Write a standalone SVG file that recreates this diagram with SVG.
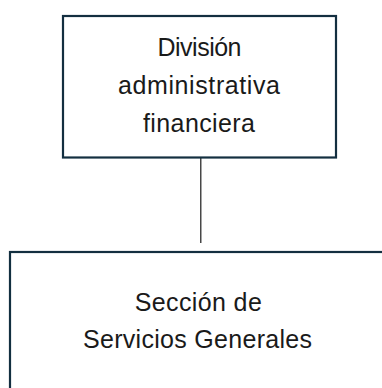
<svg xmlns="http://www.w3.org/2000/svg" width="382" height="388" viewBox="0 0 382 388">
<style>
.box{fill:#ffffff;stroke:#132f40;stroke-width:2.2}
.lbl{font-family:"Liberation Sans",Arial,sans-serif;font-size:25px;fill:#1a1a1a;text-anchor:middle}
.conn{stroke:#1a1a1a;stroke-width:1.2;fill:none}
</style>
<rect width="382" height="388" fill="#ffffff"/>
<g id="connectors">
<line class="conn" x1="200.8" y1="158" x2="200.8" y2="243"/>
</g>
<g id="division">
<rect class="box" x="63" y="16" width="273" height="141.5"/>
<text class="lbl" x="199.5" y="55.5" textLength="84" lengthAdjust="spacing">División</text>
<text class="lbl" x="199" y="93.5" textLength="162" lengthAdjust="spacing">administrativa</text>
<text class="lbl" x="199" y="132" textLength="112" lengthAdjust="spacing">financiera</text>
</g>
<g id="seccion">
<rect class="box" x="10" y="252" width="400" height="200"/>
<text class="lbl" x="198.3" y="311" textLength="127" lengthAdjust="spacing">Sección de</text>
<text class="lbl" x="197.5" y="348" textLength="229" lengthAdjust="spacing">Servicios Generales</text>
</g>
</svg>
